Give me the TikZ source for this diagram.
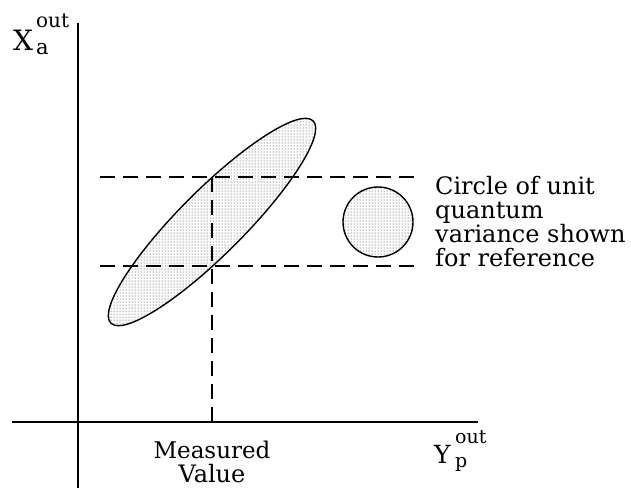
\documentclass[tikz,border=0pt]{standalone}
\usepackage{fontspec}
\setmainfont{DejaVu Serif}
\usetikzlibrary{patterns}
\tikzset{
  axis/.style={line width=1.4pt},
  guide/.style={line width=1.3pt, dash pattern=on 15pt off 8pt},
  shade/.style={line width=1.4pt, pattern=dots, pattern color=black!85},
  lbl/.style={inner sep=0pt, font=\fontsize{24}{24}\selectfont},
}
\begin{document}
\begin{tikzpicture}[x=1pt,y=-1pt]
\useasboundingbox (0,0) rectangle (631,488);
% axes
\coordinate (ytop) at (78,23);
\coordinate (ybot) at (78,488);
\coordinate (xl) at (12,422);
\coordinate (xr) at (478,422);
\draw[axis] (ytop) -- (ybot);
\draw[axis] (xl) -- (xr);
% dashed guides
\coordinate (h1l) at (100,177);
\coordinate (h1r) at (414,177);
\coordinate (h2l) at (100,266);
\coordinate (h2r) at (414,266);
\coordinate (vt) at (212,177);
\coordinate (vm) at (212,266);
\coordinate (vb) at (212,422);
\draw[guide] (h1l) -- (h1r);
\draw[guide] (h2l) -- (h2r);
\draw[guide] (vt) -- (vb);
% ellipse and circle
\coordinate (ec) at (212,222);
\draw[shade] (ec) ellipse [x radius=143pt, y radius=32.3pt, rotate=45];
\draw[guide] (vt) -- (vm);
\node[draw, shade, circle, minimum size=70pt, inner sep=0pt] (unit) at (378,222) {};
% labels
\node[lbl, anchor=base west] (xa) at (13,50) {\fontsize{28}{28}\selectfont X};
\node[lbl, anchor=base west] (xasub) at (36,54) {\fontsize{21}{21}\selectfont a};
\node[lbl, anchor=base west] (xasup) at (36,27) {\fontsize{20}{20}\selectfont out};
\node[lbl, anchor=base west] (yp) at (434,463) {\fontsize{25}{25}\selectfont Y};
\node[lbl, anchor=base west] (ypsub) at (455,467) {\fontsize{19}{19}\selectfont p};
\node[lbl, anchor=base west] (ypsup) at (455,443) {\fontsize{19}{19}\selectfont out};
\node[lbl, anchor=base, align=center] (meas) at (212,482) {\fontsize{23}{25}\selectfont Measured\\Value};
\node[lbl, anchor=base west, align=left] (note) at (435,266) {Circle of unit\\quantum\\variance shown\\for reference};
\end{tikzpicture}
\end{document}
